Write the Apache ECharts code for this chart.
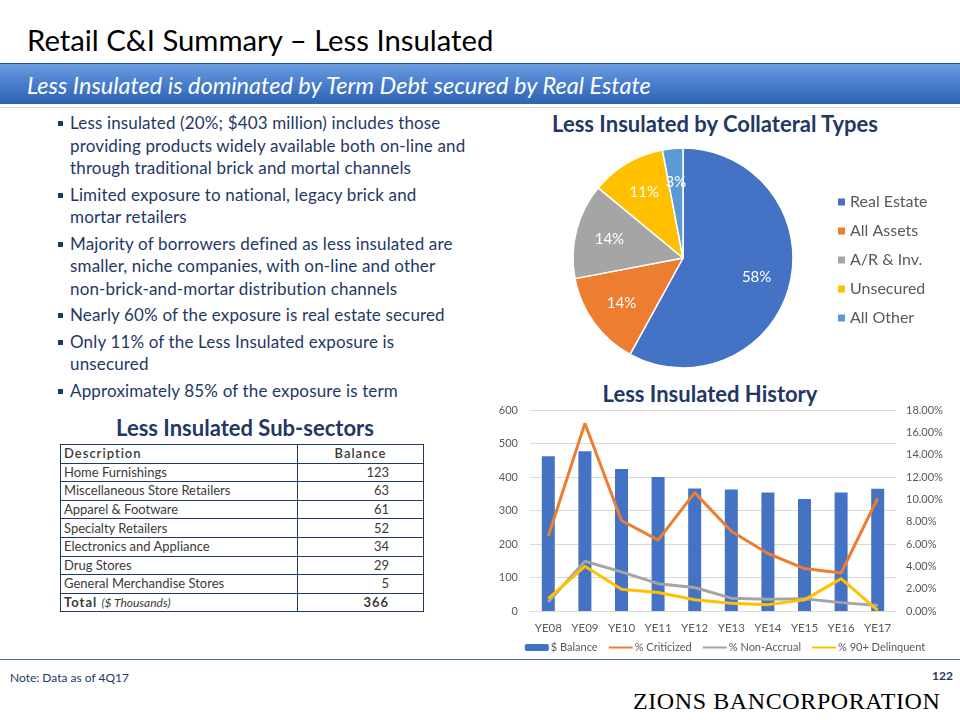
<!DOCTYPE html>
<html>
<head>
<meta charset="utf-8">
<script src="https://cdn.jsdelivr.net/npm/echarts/dist/echarts.min.js"></script>
<style>
  body { margin: 0; background: #fff; }
  #page { position: relative; width: 960px; height: 720px; overflow: hidden; font-family: Lato, "Open Sans", sans-serif; }
  .abs { position: absolute; }
  #title { left: 27px; top: 22px; font-size: 29.3px; color: #000; font-weight: 400; white-space: nowrap; }
  #banner { left: 0; top: 63px; width: 960px; height: 40px; border-top: 1px solid #2a4f86;
    background: linear-gradient(#6c9de0, #4a80cf 45%, #2f63b0); }
  #banner span { position: absolute; left: 27px; top: 7px; color: #fff; font-style: italic; font-size: 23.5px; white-space: nowrap; }
  .rule { left: 0; width: 960px; height: 1px; background: #d9d9d9; }
  #bullets { left: 58px; top: 112px; width: 440px; color: #1f3864; font-size: 17px; letter-spacing: 0.15px; line-height: 22.5px; }
  #bullets div { position: relative; padding-left: 12px; margin-bottom: 4px; white-space: nowrap; }
  #bullets div:before { content: ""; position: absolute; left: 0; top: 9px; width: 5px; height: 5px; background: #1f3864; }
  .head { color: #1f3864; font-weight: bold; font-size: 22px; white-space: nowrap; text-align: center; }
  #tbl { left: 60px; top: 444px; width: 364px; border-collapse: collapse; font-size: 13px; color: #3a3a3a; }
  #tbl td { border: 1px solid #1f3864; height: 17.6px; padding: 0 3px; line-height: 17px; }
  #tbl td.num { text-align: right; padding-right: 34px; }
  #tbl tr.hd td { letter-spacing: 1px; font-weight: 600; }
  #tbl tr.tot td { letter-spacing: 1px; font-weight: bold; }
  #tbl tr.tot i { font-weight: normal; letter-spacing: 0; font-size: 12px; }
</style>
</head>
<body>
<div id="page">
  <div id="title" class="abs">Retail C&amp;I Summary – Less Insulated</div>
  <div id="banner" class="abs"><span>Less Insulated is dominated by Term Debt secured by Real Estate</span></div>
  <div class="abs rule" style="top:107px"></div>

  <div id="bullets" class="abs">
    <div>Less insulated (20%; $403 million) includes those<br>providing products widely available both on-line and<br>through traditional brick and mortal channels</div>
    <div>Limited exposure to national, legacy brick and<br>mortar retailers</div>
    <div>Majority of borrowers defined as less insulated are<br>smaller, niche companies, with on-line and other<br>non-brick-and-mortar distribution channels</div>
    <div>Nearly 60% of the exposure is real estate secured</div>
    <div>Only 11% of the Less Insulated exposure is<br>unsecured</div>
    <div>Approximately 85% of the exposure is term</div>
  </div>

  <div class="abs head" style="left:60px; width:370px; top:414px">Less Insulated Sub-sectors</div>
  <table id="tbl" class="abs"></table>

  <div class="abs head" style="left:540px; width:350px; top:110px">Less Insulated by Collateral Types</div>
  <div id="pie" class="abs" style="left:540px; top:140px; width:420px; height:240px"></div>

  <div class="abs head" style="left:560px; width:300px; top:380px">Less Insulated History</div>
  <div id="combo" class="abs" style="left:490px; top:400px; width:470px; height:265px"></div>

  <div class="abs rule" style="top:659px; background:#4f6a95"></div>
  <div class="abs" style="left:10px; top:670px; font-size:12px; color:#1f3864">Note: Data as of 4Q17</div>
  <div class="abs" style="left:932px; top:668px; font-size:12px; color:#1f3864; font-weight:bold">122</div>
  <div class="abs" style="left:633px; top:688px; font-family:'Liberation Serif', serif; font-size:24px; letter-spacing:0.6px; color:#000; white-space:nowrap">ZIONS BANCORPORATION</div>
</div>

<script>
  // sub-sector table
  const subSectors = ['Home Furnishings', 'Miscellaneous Store Retailers', 'Apparel & Footware', 'Specialty Retailers',
    'Electronics and Appliance', 'Drug Stores', 'General Merchandise Stores'];
  const subBalances = [123, 63, 61, 52, 34, 29, 5];
  const totalBalance = 366;

  // pie: collateral types
  const collateralNames = ['Real Estate', 'All Assets', 'A/R & Inv.', 'Unsecured', 'All Other'];
  const collateralShares = [58, 14, 14, 11, 3];
  const pieColors = ['#4472c4', '#ed7d31', '#a5a5a5', '#ffc000', '#5b9bd5'];

  // history chart
  const years = ['YE08', 'YE09', 'YE10', 'YE11', 'YE12', 'YE13', 'YE14', 'YE15', 'YE16', 'YE17'];
  const balance = [462, 477, 424, 400, 366, 363, 354, 334, 354, 365];
  const criticized = [6.7, 16.8, 8.1, 6.35, 10.6, 7.15, 5.15, 3.8, 3.4, 10.1];
  const nonAccrual = [0.8, 4.45, 3.5, 2.45, 2.1, 1.15, 1.05, 1.1, 0.75, 0.5];
  const delinquent = [1.1, 4.0, 1.95, 1.65, 1.0, 0.7, 0.57, 1.0, 2.9, 0.05];

  // build table
  var tbl = document.getElementById('tbl');
  var html = '<tr class="hd"><td>Description</td><td style="text-align:center">Balance</td></tr>';
  subSectors.forEach(function (s, i) {
    html += '<tr><td>' + s.replace('&', '&amp;') + '</td><td class="num">' + subBalances[i] + '</td></tr>';
  });
  html += '<tr class="tot"><td>Total <i>($ Thousands)</i></td><td class="num">' + totalBalance + '</td></tr>';
  tbl.innerHTML = html;
  tbl.querySelectorAll('tr').forEach(function (tr) { tr.children[0].style.width = '230px'; });

  var pieData = collateralNames.map(function (n, i) {
    return { name: n, value: collateralShares[i], itemStyle: { color: pieColors[i] } };
  });

  var pieChart = echarts.init(document.getElementById('pie'));
  pieChart.setOption({
    animation: false,
    legend: {
      orient: 'vertical',
      left: 296,
      top: 54,
      padding: 0,
      icon: 'rect',
      itemWidth: 9,
      itemHeight: 9,
      itemGap: 13,
      textStyle: { color: '#595959', fontSize: 16, lineHeight: 16, fontFamily: 'Lato', padding: [0, 0, 0, -1] },
      data: collateralNames.map(function (n, i) { return { name: n, itemStyle: { color: pieColors[i] } }; })
    },
    series: [{
      type: 'pie',
      center: [143, 118],
      radius: 110,
      startAngle: 90,
      clockwise: true,
      label: { show: false },
      labelLine: { show: false },
      itemStyle: { borderColor: '#fff', borderWidth: 1.5 },
      data: pieData
    }, {
      // label ring, pushes the labels out to about 2/3 of the radius
      type: 'pie',
      center: [143, 118],
      radius: [36, 110],
      startAngle: 90,
      clockwise: true,
      silent: true,
      itemStyle: { color: 'rgba(0,0,0,0)' },
      label: {
        show: true, position: 'inside', color: '#fff', fontSize: 15, fontFamily: 'Lato',
        formatter: '{c}%'
      },
      labelLine: { show: false },
      data: collateralNames.map(function (n, i) { return { name: n, value: collateralShares[i] }; })
    }]
  });

  // line legend icons: hide the symbol circle, keep only the stroke
  var noSymbol = { color: 'rgba(0,0,0,0)', borderWidth: 0, opacity: 0 };

  var comboChart = echarts.init(document.getElementById('combo'));
  comboChart.setOption({
    animation: false,
    textStyle: { fontFamily: 'Lato' },
    grid: { left: 40, right: 64, top: 10, bottom: 54 },
    legend: {
      bottom: 7,
      left: 'center',
      itemWidth: 24,
      itemHeight: 7,
      itemGap: 10,
      textStyle: { color: '#595959', fontSize: 11, padding: [0, 0, 0, -3] },
      data: [
        { name: '$ Balance' },
        { name: '% Criticized', itemStyle: noSymbol },
        { name: '% Non-Accrual', itemStyle: noSymbol },
        { name: '% 90+ Delinquent', itemStyle: noSymbol }
      ]
    },
    xAxis: {
      type: 'category',
      data: years,
      axisTick: { show: false },
      axisLine: { lineStyle: { color: '#d9d9d9' } },
      axisLabel: { color: '#595959', fontSize: 11.5, margin: 11 }
    },
    yAxis: [{
      type: 'value',
      min: 0, max: 600, interval: 100,
      axisLabel: { color: '#595959', fontSize: 11, margin: 12 },
      splitLine: { lineStyle: { color: '#d9d9d9' } }
    }, {
      type: 'value',
      min: 0, max: 18, interval: 2,
      axisLabel: { color: '#595959', fontSize: 11, margin: 10, formatter: function (v) { return v.toFixed(2) + '%'; } },
      splitLine: { show: false }
    }],
    series: [{
      name: '$ Balance',
      type: 'bar',
      barWidth: 13,
      itemStyle: { color: '#4472c4' },
      data: balance
    }, {
      name: '% Criticized',
      type: 'line',
      yAxisIndex: 1,
      symbol: 'none',
      lineStyle: { color: '#ed7d31', width: 3 },
      itemStyle: { color: '#ed7d31' },
      data: criticized
    }, {
      name: '% Non-Accrual',
      type: 'line',
      yAxisIndex: 1,
      symbol: 'none',
      lineStyle: { color: '#a5a5a5', width: 3 },
      itemStyle: { color: '#a5a5a5' },
      data: nonAccrual
    }, {
      name: '% 90+ Delinquent',
      type: 'line',
      yAxisIndex: 1,
      symbol: 'none',
      lineStyle: { color: '#ffc000', width: 3 },
      itemStyle: { color: '#ffc000' },
      data: delinquent
    }]
  });
</script>
</body>
</html>
